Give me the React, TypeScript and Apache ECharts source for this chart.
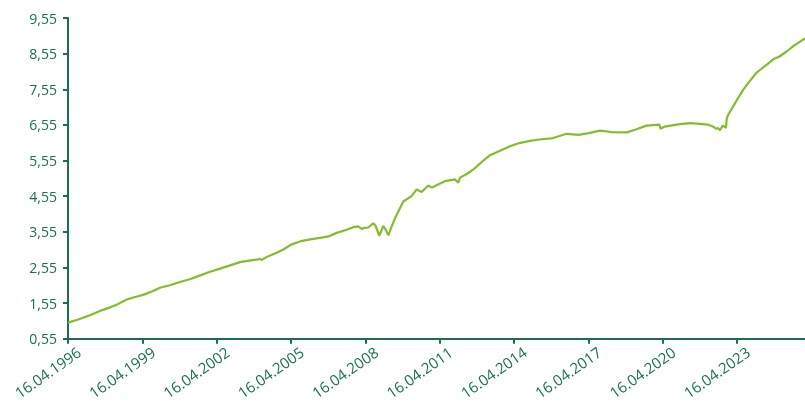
import React, { useEffect, useRef } from "react";
import * as echarts from "echarts";

// Time positions (fractional years) and fund values
const years: number[] = [
  1996.29, 1996.7, 1997.1, 1997.58, 1998.0, 1998.3, 1998.66, 1999.0, 1999.32, 1999.7,
  2000.0, 2000.4, 2000.81, 2001.2, 2001.6, 2002.02, 2002.4, 2002.8, 2003.23, 2003.6,
  2003.9, 2004.04, 2004.1, 2004.3, 2004.71, 2005.0, 2005.29, 2005.65, 2006.0, 2006.46,
  2006.8, 2007.13, 2007.5, 2007.8, 2008.0, 2008.14, 2008.25, 2008.4, 2008.61, 2008.7,
  2008.85, 2008.95, 2009.01, 2009.1, 2009.22, 2009.35, 2009.5, 2009.82, 2010.0, 2010.16,
  2010.36, 2010.56, 2010.83, 2010.97, 2011.2, 2011.5, 2011.91, 2012.04, 2012.11, 2012.4,
  2012.65, 2013.0, 2013.32, 2013.7, 2014.13, 2014.5, 2014.93, 2015.3, 2015.8, 2016.41,
  2016.9, 2017.3, 2017.76, 2018.2, 2018.84, 2019.2, 2019.64, 2020.0, 2020.15, 2020.2,
  2020.35, 2020.99, 2021.4, 2021.79, 2022.1, 2022.33, 2022.45, 2022.53, 2022.6, 2022.71,
  2022.84, 2022.88, 2023.0, 2023.07, 2023.3, 2023.54, 2023.8, 2024.08, 2024.3, 2024.49,
  2024.75, 2025.0, 2025.29, 2025.6, 2026.03,
];
const values: number[] = [
  1.0, 1.09, 1.19, 1.33, 1.43, 1.52, 1.65, 1.72, 1.78, 1.88,
  1.98, 2.05, 2.14, 2.22, 2.32, 2.43, 2.51, 2.6, 2.7, 2.74,
  2.77, 2.79, 2.76, 2.84, 2.96, 3.06, 3.19, 3.28, 3.33, 3.38,
  3.42, 3.52, 3.6, 3.68, 3.7, 3.63, 3.66, 3.67, 3.79, 3.72,
  3.44, 3.6, 3.72, 3.62, 3.45, 3.7, 3.95, 4.4, 4.48, 4.56,
  4.74, 4.67, 4.85, 4.79, 4.87, 4.97, 5.02, 4.93, 5.07, 5.18,
  5.3, 5.52, 5.7, 5.82, 5.95, 6.04, 6.1, 6.14, 6.17, 6.3,
  6.27, 6.32, 6.39, 6.35, 6.34, 6.42, 6.53, 6.55, 6.56, 6.44,
  6.5, 6.57, 6.6, 6.58, 6.56, 6.5, 6.44, 6.46, 6.4, 6.53,
  6.47, 6.76, 6.92, 7.0, 7.27, 7.54, 7.78, 8.02, 8.14, 8.24,
  8.39, 8.47, 8.61, 8.78, 8.98,
];
const xMin = 1996.29;
const xMax = 2026.03;
const xStep = 3;
const yMin = 0.55;
const yMax = 9.55;
const yStep = 1;
const tickDayMonth = "16.04.";

const AXIS = "#18704f";
const LINE = "#84bd2b";
const FONT = "'Open Sans', 'Noto Sans', sans-serif";

export default function App() {
  const ref = useRef<HTMLDivElement>(null);
  useEffect(() => {
    if (!ref.current) return;
    const chart = echarts.init(ref.current, undefined, { renderer: "svg" });
    chart.setOption({
      animation: false,
      grid: { left: 68, right: 0, top: 18, bottom: 62, containLabel: false },
      xAxis: {
        type: "value",
        min: xMin,
        max: xMax,
        interval: xStep,
        splitLine: { show: false },
        axisLine: { show: true, lineStyle: { color: AXIS, width: 2 } },
        axisTick: { show: true, length: 5, lineStyle: { color: AXIS, width: 2 } },
        axisLabel: {
          showMaxLabel: false,
          rotate: 35,
          align: "right",
          verticalAlign: "top",
          margin: 10,
          padding: [0, -8, 0, 0],
          color: AXIS,
          fontSize: 15,
          fontFamily: FONT,
          formatter: (v: number) => tickDayMonth + Math.round(v),
        },
      },
      yAxis: {
        type: "value",
        min: yMin,
        max: yMax,
        interval: yStep,
        splitLine: { show: false },
        axisLine: { show: true, lineStyle: { color: AXIS, width: 2 } },
        axisTick: { show: true, length: 5, lineStyle: { color: AXIS, width: 2 } },
        axisLabel: {
          margin: 11,
          color: AXIS,
          fontSize: 14,
          fontFamily: FONT,
          formatter: (v: number) => v.toFixed(2).replace(".", ","),
        },
      },
      series: [
        {
          type: "line",
          data: years.map((y, i) => [y, values[i]]),
          showSymbol: false,
          lineStyle: { color: LINE, width: 2.2 },
          itemStyle: { color: LINE },
        },
      ],
    });
    return () => chart.dispose();
  }, []);
  return (
    <div
      ref={ref}
      style={{ position: "fixed", left: 0, top: 0, width: 805, height: 402 }}
    />
  );
}
